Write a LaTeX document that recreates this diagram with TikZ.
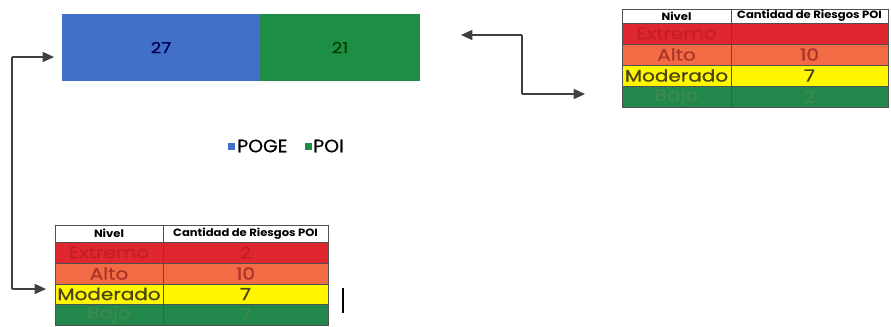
\documentclass[tikz,border=0pt]{standalone}
\usepackage{fontspec}
\setmainfont{Poppins}
\newfontfamily\cellfont[FakeStretch=1.2,FakeBold=0.8]{Poppins}
\newfontfamily\hdrfont[FakeStretch=1.1]{Poppins}
\newfontfamily\legfont[FakeStretch=1.05,FakeBold=0.5]{Poppins}
\usetikzlibrary{arrows.meta}
\definecolor{barblue}{HTML}{4270C8}
\definecolor{bargreen}{HTML}{1E8E46}
\definecolor{rred}{HTML}{E0262E}
\definecolor{rorange}{HTML}{F26B45}
\definecolor{ryellow}{HTML}{FFF600}
\definecolor{rgreen}{HTML}{21874A}
\definecolor{tred}{HTML}{C41E28}
\definecolor{torange}{HTML}{A8342A}
\definecolor{tyellow}{HTML}{4A4610}
\definecolor{tgreen}{HTML}{3C8A50}
\definecolor{gridc}{HTML}{505050}
\newcommand{\myhdr}{\hdrfont\bfseries\fontsize{7.9}{9}\selectfont}
\newcommand{\mycell}[8]{%
  \node[cellbox, fill=#6, text=#7, minimum width={(#4)*0.75pt}, minimum height={(#5)*0.75pt}] (#1) at (#2,#3) {#8};}
\begin{document}
\begin{tikzpicture}[x=0.75pt,y=-0.75pt,
  cellbox/.style={draw=gridc, line width=0.7pt, anchor=north west, inner sep=0pt, outer sep=0pt, font=\cellfont\fontsize{12.5}{12}\selectfont},
  conn/.style={draw=black!75, line width=1.1pt, -{Triangle[length=8.5pt,width=7.5pt]}},
  barbox/.style={anchor=north west, inner sep=0pt, outer sep=0pt, font=\cellfont\fontsize{11.5}{11}\selectfont}]
\useasboundingbox (0,0) rectangle (891,326);
% bar
\node[barbox, fill=barblue, text=blue!35!black, minimum width={198*0.75pt}, minimum height={67*0.75pt}] (poge) at (62,14) {27};
\node[barbox, fill=bargreen, text=green!25!black, minimum width={160*0.75pt}, minimum height={67*0.75pt}] (poi) at (260,14) {21};
% legend
\node[fill=barblue, minimum size={7*0.75pt}, inner sep=0pt] (lsq1) at (231,146) {};
\node[anchor=west, inner sep=0pt, font=\legfont\fontsize{13.5}{14}\selectfont] (l1) at (237,146) {POGE};
\node[fill=bargreen, minimum size={7*0.75pt}, inner sep=0pt] (lsq2) at (308,146) {};
\node[anchor=west, inner sep=0pt, font=\legfont\fontsize{13.5}{14}\selectfont] (l2) at (313,146) {POI};
% top right table
\mycell{ta1}{622}{9}{109}{14}{white}{black}{\myhdr Nivel}
\mycell{ta2}{731}{9}{157}{14}{white}{black}{\myhdr Cantidad de Riesgos POI}
\mycell{tb1}{622}{23}{109}{21}{rred}{tred}{Extremo}
\mycell{tb2}{731}{23}{157}{21}{rred}{tred}{}
\mycell{tc1}{622}{44}{109}{21}{rorange}{torange}{Alto}
\mycell{tc2}{731}{44}{157}{21}{rorange}{torange}{10}
\mycell{td1}{622}{65}{109}{21}{ryellow}{tyellow}{Moderado}
\mycell{td2}{731}{65}{157}{21}{ryellow}{tyellow}{7}
\mycell{te1}{622}{86}{109}{21}{rgreen}{tgreen}{Bajo}
\mycell{te2}{731}{86}{157}{21}{rgreen}{tgreen}{2}
% bottom left table
\mycell{ba1}{55}{225}{108}{17}{white}{black}{\myhdr Nivel}
\mycell{ba2}{163}{225}{165}{17}{white}{black}{\myhdr Cantidad de Riesgos POI}
\mycell{bb1}{55}{242}{108}{21}{rred}{tred}{Extremo}
\mycell{bb2}{163}{242}{165}{21}{rred}{tred}{2}
\mycell{bc1}{55}{263}{108}{21}{rorange}{torange}{Alto}
\mycell{bc2}{163}{263}{165}{21}{rorange}{torange}{10}
\mycell{bd1}{55}{284}{108}{20}{ryellow}{tyellow}{Moderado}
\mycell{bd2}{163}{284}{165}{20}{ryellow}{tyellow}{7}
\mycell{be1}{55}{304}{108}{21}{rgreen}{tgreen}{Bajo}
\mycell{be2}{163}{304}{165}{21}{rgreen}{tgreen}{7}
% stray bar
\coordinate (vb1) at (343,288);
\coordinate (vb2) at (343,313);
\draw[line width=1.3pt] (vb1) -- (vb2);
% left connector
\coordinate (lc1) at (12,57);
\coordinate (lc2) at (12,289);
\coordinate (lt1) at (54,57);
\coordinate (lt2) at (46,289);
\draw[draw=black!75, line width=1.1pt] (lc1) -- (lc2);
\draw[conn] (lc1) -- (lt1);
\draw[conn] (lc2) -- (lt2);
% right connector
\coordinate (rc1) at (522,35);
\coordinate (rc2) at (522,94);
\coordinate (rt1) at (461,35);
\coordinate (rt2) at (585,94);
\draw[draw=black!75, line width=1.1pt] (rc1) -- (rc2);
\draw[conn] (rc1) -- (rt1);
\draw[conn] (rc2) -- (rt2);
\end{tikzpicture}
\end{document}
